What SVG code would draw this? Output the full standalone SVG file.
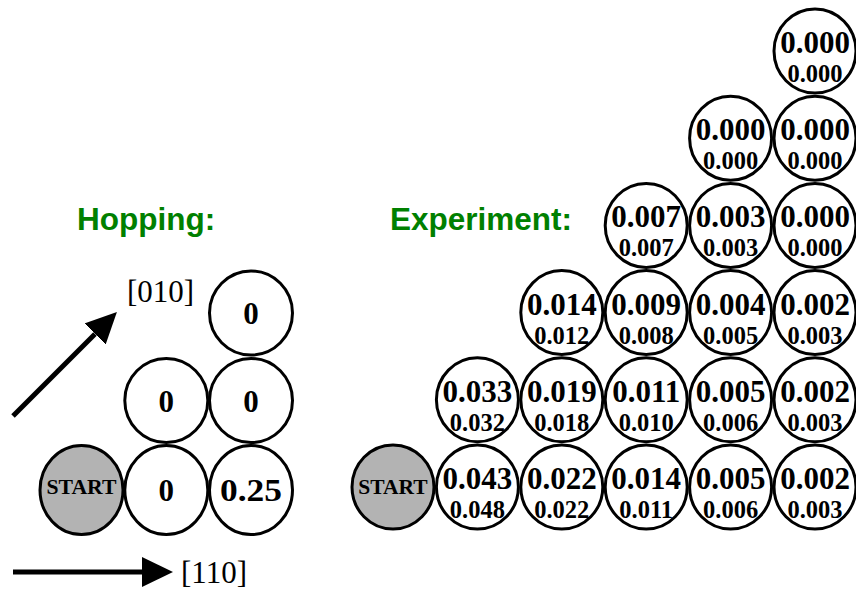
<svg xmlns="http://www.w3.org/2000/svg" width="856" height="591" viewBox="0 0 856 591">
<style>
.c{fill:#fff;stroke:#000;stroke-width:3}
.s{fill:#b3b3b3;stroke:#000;stroke-width:3}
.big{font-family:"Liberation Serif","Times New Roman",serif;font-weight:bold;font-size:31px;text-anchor:middle}
.sm{font-family:"Liberation Serif","Times New Roman",serif;font-weight:bold;font-size:24.5px;text-anchor:middle}
.hz{font-family:"Liberation Serif","Times New Roman",serif;font-weight:bold;font-size:31px;text-anchor:middle}
.st{font-family:"Liberation Serif","Times New Roman",serif;font-weight:bold;font-size:21.5px;text-anchor:middle}
.ttl{font-family:"Liberation Sans",Arial,sans-serif;font-weight:bold;font-size:31.5px;fill:#008000}
.dir{font-family:"Liberation Serif","Times New Roman",serif;font-size:31px}
.ar{stroke:#000;stroke-width:5;fill:none}
</style>
<defs>
<marker id="ah" markerUnits="userSpaceOnUse" markerWidth="31" markerHeight="30" viewBox="0 0 31 30" refX="0" refY="15" orient="auto">
<path d="M0,0 L31,15 L0,30 Z" fill="#000"/>
</marker>
</defs>
<text class="ttl" x="77" y="230">Hopping:</text>
<text class="ttl" x="390" y="230">Experiment:</text>
<g id="connectors">
<line class="ar" x1="13" y1="416" x2="95" y2="334" marker-end="url(#ah)"/>
<line class="ar" x1="13" y1="572" x2="142" y2="572" marker-end="url(#ah)"/>
</g>
<text class="dir" x="127" y="302">[010]</text>
<text class="dir" x="181" y="583">[110]</text>
<!-- Hopping grid -->
<g id="h-start" transform="translate(81.5,490)"><ellipse class="s" rx="41.5" ry="44.5"/><text class="st" y="4" textLength="70" lengthAdjust="spacingAndGlyphs">START</text></g>
<g id="h-1-0" transform="translate(166.3,490)"><ellipse class="c" rx="41.5" ry="44.5"/><text class="hz" y="11">0</text></g>
<g id="h-2-0" transform="translate(251,490)"><ellipse class="c" rx="41.5" ry="44.5"/><text class="hz" y="11" textLength="62" lengthAdjust="spacingAndGlyphs">0.25</text></g>
<g id="h-1-1" transform="translate(166.3,400.5)"><ellipse class="c" rx="41.5" ry="42"/><text class="hz" y="11">0</text></g>
<g id="h-2-1" transform="translate(251,400.5)"><ellipse class="c" rx="41.5" ry="42"/><text class="hz" y="11">0</text></g>
<g id="h-2-2" transform="translate(251,313)"><ellipse class="c" rx="41.5" ry="42"/><text class="hz" y="11">0</text></g>
<!-- Experiment grid -->
<g id="e-start" transform="translate(393,487)"><ellipse class="s" rx="41" ry="42"/><text class="st" y="7">START</text></g>
<g id="e-1-0" transform="translate(477.4,487)"><ellipse class="c" rx="41" ry="42"/><text class="big" y="2">0.043</text><text class="sm" y="31">0.048</text></g>
<g id="e-2-0" transform="translate(561.8,487)"><ellipse class="c" rx="41" ry="42"/><text class="big" y="2">0.022</text><text class="sm" y="31">0.022</text></g>
<g id="e-3-0" transform="translate(646.2,487)"><ellipse class="c" rx="41" ry="42"/><text class="big" y="2">0.014</text><text class="sm" y="31">0.011</text></g>
<g id="e-4-0" transform="translate(730.6,487)"><ellipse class="c" rx="41" ry="42"/><text class="big" y="2">0.005</text><text class="sm" y="31">0.006</text></g>
<g id="e-5-0" transform="translate(815,487)"><ellipse class="c" rx="41" ry="42"/><text class="big" y="2">0.002</text><text class="sm" y="31">0.003</text></g>
<g id="e-1-1" transform="translate(477.4,399.8)"><ellipse class="c" rx="41" ry="42"/><text class="big" y="2">0.033</text><text class="sm" y="31">0.032</text></g>
<g id="e-2-1" transform="translate(561.8,399.8)"><ellipse class="c" rx="41" ry="42"/><text class="big" y="2">0.019</text><text class="sm" y="31">0.018</text></g>
<g id="e-3-1" transform="translate(646.2,399.8)"><ellipse class="c" rx="41" ry="42"/><text class="big" y="2">0.011</text><text class="sm" y="31">0.010</text></g>
<g id="e-4-1" transform="translate(730.6,399.8)"><ellipse class="c" rx="41" ry="42"/><text class="big" y="2">0.005</text><text class="sm" y="31">0.006</text></g>
<g id="e-5-1" transform="translate(815,399.8)"><ellipse class="c" rx="41" ry="42"/><text class="big" y="2">0.002</text><text class="sm" y="31">0.003</text></g>
<g id="e-2-2" transform="translate(561.8,312.6)"><ellipse class="c" rx="41" ry="42"/><text class="big" y="2">0.014</text><text class="sm" y="31">0.012</text></g>
<g id="e-3-2" transform="translate(646.2,312.6)"><ellipse class="c" rx="41" ry="42"/><text class="big" y="2">0.009</text><text class="sm" y="31">0.008</text></g>
<g id="e-4-2" transform="translate(730.6,312.6)"><ellipse class="c" rx="41" ry="42"/><text class="big" y="2">0.004</text><text class="sm" y="31">0.005</text></g>
<g id="e-5-2" transform="translate(815,312.6)"><ellipse class="c" rx="41" ry="42"/><text class="big" y="2">0.002</text><text class="sm" y="31">0.003</text></g>
<g id="e-3-3" transform="translate(646.2,225.4)"><ellipse class="c" rx="41" ry="42"/><text class="big" y="2">0.007</text><text class="sm" y="31">0.007</text></g>
<g id="e-4-3" transform="translate(730.6,225.4)"><ellipse class="c" rx="41" ry="42"/><text class="big" y="2">0.003</text><text class="sm" y="31">0.003</text></g>
<g id="e-5-3" transform="translate(815,225.4)"><ellipse class="c" rx="41" ry="42"/><text class="big" y="2">0.000</text><text class="sm" y="31">0.000</text></g>
<g id="e-4-4" transform="translate(730.6,138.2)"><ellipse class="c" rx="41" ry="42"/><text class="big" y="2">0.000</text><text class="sm" y="31">0.000</text></g>
<g id="e-5-4" transform="translate(815,138.2)"><ellipse class="c" rx="41" ry="42"/><text class="big" y="2">0.000</text><text class="sm" y="31">0.000</text></g>
<g id="e-5-5" transform="translate(815,51)"><ellipse class="c" rx="41" ry="42"/><text class="big" y="2">0.000</text><text class="sm" y="31">0.000</text></g>
</svg>
